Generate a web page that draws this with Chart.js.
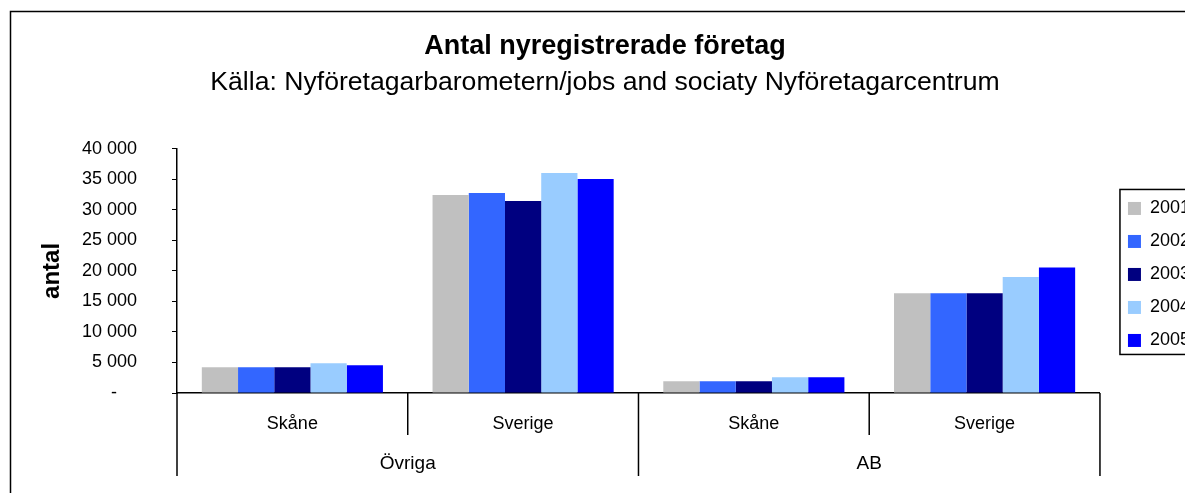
<!DOCTYPE html>
<html>
<head>
<meta charset="utf-8">
<script src="https://cdn.jsdelivr.net/npm/chart.js@4.4.1/dist/chart.umd.min.js"></script>
<style>
  html, body { margin: 0; padding: 0; background: #fff; overflow: hidden; }
  #wrap { width: 1185px; height: 493px; overflow: hidden; position: relative; }
  canvas { display: block; }
</style>
</head>
<body>
<div id="wrap"><canvas id="c" width="1210" height="500"></canvas></div>
<script>
// ---- data ----
const innerLabels = ['Skåne', 'Sverige', 'Skåne', 'Sverige'];
const groupLabels = ['Övriga', 'AB'];
const seriesNames = ['2001', '2002', '2003', '2004', '2005'];
const v2001 = [4220, 32450, 1920, 16360];
const v2002 = [4220, 32770, 1920, 16360];
const v2003 = [4220, 31460, 1920, 16360];
const v2004 = [4870, 36060, 2580, 18990];
const v2005 = [4550, 35070, 2580, 20580];
const yTicks = [0, 5000, 10000, 15000, 20000, 25000, 30000, 35000, 40000];
const colors = ['#C0C0C0', '#3366FF', '#000080', '#99CCFF', '#0000FF'];

const FONT = "'Liberation Sans', Arial, sans-serif";
Chart.defaults.font.family = FONT;
Chart.defaults.color = '#000';

const seriesValues = [v2001, v2002, v2003, v2004, v2005];

function fmt(v) {
  if (v === 0) return '-    ';
  return String(v).replace(/\B(?=(\d{3})+(?!\d))/g, ' ');
}

const decor = {
  id: 'decor',
  beforeDraw(chart) {
    const ctx = chart.ctx;
    ctx.save();
    ctx.fillStyle = '#fff';
    ctx.fillRect(0, 0, chart.width, chart.height);
    ctx.strokeStyle = '#000';
    ctx.lineWidth = 1.5;
    ctx.strokeRect(10.5, 11.5, chart.width - 5, chart.height - 5);
    ctx.restore();
  },
  afterDraw(chart) {
    const ctx = chart.ctx;
    const x = chart.scales.x;
    const n = innerLabels.length;
    const half = (x.getPixelForValue(1) - x.getPixelForValue(0)) / 2;
    const base = chart.chartArea.bottom;
    ctx.save();
    ctx.strokeStyle = '#000';
    ctx.lineWidth = 1.5;
    for (let i = 0; i <= n; i++) {
      const px = i < n ? x.getPixelForValue(i) - half : x.getPixelForValue(n - 1) + half;
      const outer = (i % 2 === 0);
      ctx.beginPath();
      ctx.moveTo(px, base);
      ctx.lineTo(px, outer ? base + 83 : base + 42);
      ctx.stroke();
    }
    // legend frame
    const hb = chart.legend.legendHitBoxes;
    if (hb && hb.length) {
      const f = hb[0], l = hb[hb.length - 1];
      ctx.lineWidth = 1.5;
      ctx.strokeRect(f.left - 8, f.top - 10, 200, l.top + l.height - f.top + 15);
    }
    ctx.restore();
  }
};

new Chart(document.getElementById('c'), {
  type: 'bar',
  data: {
    labels: innerLabels,
    datasets: seriesNames.map((name, i) => ({
      label: name,
      data: seriesValues[i],
      backgroundColor: colors[i],
      borderWidth: 0,
      categoryPercentage: 0.785,
      barPercentage: 1.0
    }))
  },
  options: {
    responsive: false,
    animation: false,
    devicePixelRatio: 1,
    layout: { padding: { left: 10, right: 10, top: 0, bottom: 0 } },
    plugins: {
      title: {
        display: true,
        text: 'Antal nyregistrerade företag',
        font: { size: 27, weight: 'bold', family: FONT },
        color: '#000',
        padding: { top: 30, bottom: 0 }
      },
      subtitle: {
        display: true,
        text: 'Källa: Nyföretagarbarometern/jobs and sociaty Nyföretagarcentrum',
        font: { size: 26.6, weight: 'normal', family: FONT },
        color: '#000',
        padding: { top: 4.6, bottom: 50 }
      },
      legend: {
        position: 'right',
        fullSize: false,
        align: 'center',
        title: { display: true, text: ' ', font: { size: 5, lineHeight: 1.4 }, padding: 0 },
        labels: {
          boxWidth: 13,
          boxHeight: 13,
          padding: 15,
          font: { size: 18, family: FONT },
          color: '#000'
        }
      },
      tooltip: { enabled: false }
    },
    scales: {
      x: {
        type: 'category',
        position: 'bottom',
        weight: 0,
        offset: true,
        grid: { display: false, drawTicks: false },
        border: { display: true, color: '#000', width: 1.5 },
        ticks: { font: { size: 18, family: FONT }, color: '#000', padding: 20, maxRotation: 0, autoSkip: false },
        afterFit: s => { s.height = 50; }
      },
      x2: {
        type: 'category',
        position: 'bottom',
        weight: 1,
        labels: groupLabels,
        offset: true,
        grid: { display: false, drawTicks: false },
        border: { display: false },
        ticks: { font: { size: 19, family: FONT }, color: '#000', padding: 9, maxRotation: 0, autoSkip: false },
        afterFit: s => { s.height = 57; }
      },
      y: {
        type: 'linear',
        position: 'left',
        min: 0,
        max: 40000,
        afterBuildTicks: s => { s.ticks = yTicks.map(v => ({ value: v })); },
        grid: { display: true, drawOnChartArea: false, drawTicks: true, tickLength: 5, color: '#000', lineWidth: 1 },
        border: { display: true, color: '#000', width: 1.5 },
        ticks: { font: { size: 18, family: FONT }, color: '#000', padding: 35, callback: v => fmt(v) },
        title: {
          display: true,
          text: 'antal',
          font: { size: 24, weight: 'bold', family: FONT },
          color: '#000',
          padding: { top: 27.6, bottom: 0 }
        },
        afterFit: s => { s.width = 167; }
      },
      yR: {
        type: 'linear',
        position: 'right',
        display: true,
        grid: { display: false, drawTicks: false },
        border: { display: false },
        ticks: { display: false },
        afterFit: s => { s.width = 13; }
      }
    }
  },
  plugins: [decor]
});
</script>
</body>
</html>
